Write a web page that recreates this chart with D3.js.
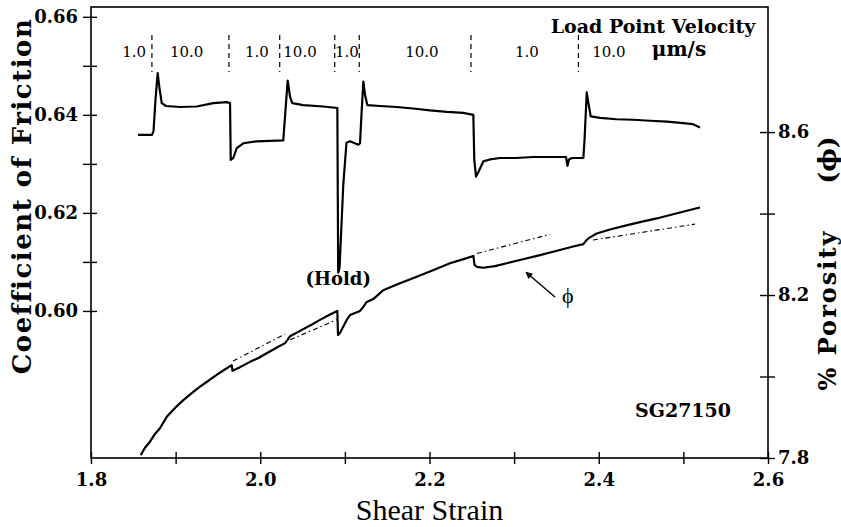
<!DOCTYPE html>
<html>
<head>
<meta charset="utf-8">
<script src="https://cdn.jsdelivr.net/npm/d3@7"></script>
<style>
  body { margin: 0; background: #fff; }
  svg { display: block; }
</style>
</head>
<body>
<svg id="chart" width="841" height="527"></svg>
<script>
// Friction trace: shear strain vs. coefficient of friction
const frictionStrain = [1.8555, 1.8721, 1.8739, 1.8762, 1.8788, 1.8809, 1.8836, 1.8886, 1.9052, 1.9249,
  1.9445, 1.9604, 1.9643, 1.9651, 1.9682, 1.9722, 1.9800, 1.9958, 2.0115, 2.0272, 2.0284, 2.0324,
  2.0352, 2.0379, 2.0509, 2.0745, 2.0911, 2.0921, 2.0937, 2.0981, 2.1019, 2.1061, 2.1159, 2.1179,
  2.1193, 2.1218, 2.1238, 2.1265, 2.1415, 2.1613, 2.1805, 2.2006, 2.2207, 2.2399, 2.2518, 2.2529,
  2.2550, 2.2579, 2.2636, 2.2715, 2.2833, 2.3022, 2.3227, 2.3424, 2.3613, 2.3631, 2.3648, 2.3684,
  2.3818, 2.3832, 2.3858, 2.3877, 2.3905, 2.4015, 2.4212, 2.4405, 2.4606, 2.4807, 2.4999, 2.5114, 2.5196];
const frictionMu = [0.6359, 0.6359, 0.6367, 0.6431, 0.6485, 0.6455, 0.6424, 0.6418, 0.6416, 0.6417,
  0.6424, 0.6426, 0.6424, 0.6308, 0.6312, 0.6332, 0.6342, 0.6346, 0.6347, 0.6348, 0.6376, 0.6470,
  0.6437, 0.6424, 0.6420, 0.6417, 0.6414, 0.6078, 0.6088, 0.6257, 0.6343, 0.6346, 0.6339, 0.6342,
  0.6390, 0.6468, 0.6441, 0.6420, 0.6418, 0.6416, 0.6413, 0.6409, 0.6406, 0.6404, 0.6400, 0.6308,
  0.6274, 0.6284, 0.6305, 0.6309, 0.6312, 0.6312, 0.6314, 0.6314, 0.6314, 0.6296, 0.6309, 0.6312,
  0.6312, 0.6349, 0.6446, 0.6425, 0.6397, 0.6394, 0.6391, 0.6390, 0.6388, 0.6386, 0.6383, 0.6381, 0.6374];

// Porosity trace: shear strain vs. % porosity
const porosityStrain = [1.8587, 1.8638, 1.8697, 1.8756, 1.8815, 1.8895, 1.8993, 1.9091, 1.9194, 1.9288,
  1.9383, 1.9485, 1.9572, 1.9663, 1.9672, 1.9761, 1.9879, 1.9973, 2.0076, 2.0186, 2.0293, 2.0322,
  2.0352, 2.0470, 2.0588, 2.0706, 2.0824, 2.0911, 2.0919, 2.0942, 2.1022, 2.1061, 2.1120, 2.1179,
  2.1218, 2.1258, 2.1336, 2.1454, 2.1557, 2.1651, 2.1849, 2.2041, 2.2242, 2.2384, 2.2518, 2.2532,
  2.2561, 2.2636, 2.2774, 2.2912, 2.3069, 2.3306, 2.3495, 2.3699, 2.3818, 2.3849, 2.3877, 2.3976,
  2.4133, 2.4290, 2.4487, 2.4685, 2.4913, 2.5158, 2.5196];
const porosityPhi = [7.807, 7.825, 7.840, 7.859, 7.873, 7.901, 7.923, 7.942, 7.960, 7.975,
  7.989, 8.004, 8.016, 8.028, 8.014, 8.023, 8.036, 8.045, 8.057, 8.070, 8.082, 8.090,
  8.099, 8.112, 8.125, 8.139, 8.152, 8.161, 8.102, 8.107, 8.139, 8.151, 8.156, 8.161,
  8.171, 8.183, 8.190, 8.212, 8.221, 8.229, 8.245, 8.261, 8.278, 8.287, 8.296, 8.274,
  8.269, 8.267, 8.271, 8.278, 8.286, 8.298, 8.308, 8.319, 8.325, 8.333, 8.339, 8.351,
  8.361, 8.369, 8.379, 8.388, 8.400, 8.413, 8.415];

// Extrapolated porosity trends (dash-dot), one start/end pair per segment
const trendStrain = [[1.9678, 2.0293], [2.0352, 2.0907], [2.2561, 2.3424], [2.3932, 2.5137]];
const trendPhi = [[8.038, 8.104], [8.090, 8.140], [8.302, 8.349], [8.335, 8.374]];

// Load point velocity steps (μm/s)
const stepStrain = [1.872, 1.963, 2.023, 2.088, 2.117, 2.249, 2.376];
const velocityLabels = ["1.0", "10.0", "1.0", "10.0", "1.0", "10.0", "1.0", "10.0"];
const velocityLabelStrain = [1.851, 1.913, 1.996, 2.047, 2.1025, 2.191, 2.315, 2.412];

// Axis ticks
const xTicks = [1.8, 1.9, 2.0, 2.1, 2.2, 2.3, 2.4, 2.5, 2.6];
const xTickLabels = ["1.8", "", "2.0", "", "2.2", "", "2.4", "", "2.6"];
const muTicks = [0.60, 0.61, 0.62, 0.63, 0.64, 0.65, 0.66];
const muTickLabels = ["0.60", "", "0.62", "", "0.64", "", "0.66"];
const phiTicks = [7.8, 8.0, 8.2, 8.4, 8.6];
const phiTickLabels = ["7.8", "", "8.2", "", "8.6"];

// Annotation anchors (strain, value)
const holdLabel = { text: "(Hold)", strain: 2.0921, mu: 0.6053 };
const phiArrow = { fromStrain: 2.3483, fromPhi: 8.195, toStrain: 2.3140, toPhi: 8.256 };
const phiLabel = { text: "\u03d5", strain: 2.3635, phi: 8.180 };

const svg = d3.select("#chart");
const margin = { left: 91, right: 73, top: 7, bottom: 69 };
const W = 841, H = 527;
const x0 = margin.left, x1 = W - margin.right, y0 = margin.top, y1 = H - margin.bottom;

const x = d3.scaleLinear().domain([1.8, 2.6]).range([x0, x1]);
const yMu = d3.scaleLinear().domain([0.57, 0.662]).range([y1, y0]);
const yPhi = d3.scaleLinear().domain([7.8, 8.907]).range([y1, y0]);

const serifBold = "'DejaVu Serif', serif";

// Frame
svg.append("rect").attr("x", x0).attr("y", y0).attr("width", x1 - x0).attr("height", y1 - y0)
  .attr("fill", "none").attr("stroke", "#000").attr("stroke-width", 1.6);

function styleAxis(g) {
  g.select(".domain").remove();
  g.selectAll(".tick line").attr("stroke", "#000").attr("stroke-width", 1.4);
  g.selectAll(".tick text").attr("fill", "#000")
    .style("font-family", serifBold).style("font-weight", "bold").style("font-size", "18px");
}

// Bottom axis
const gx = svg.append("g").attr("transform", `translate(0,${y1})`)
  .call(d3.axisBottom(x).tickValues(xTicks).tickSize(6).tickPadding(9)
    .tickFormat((d, i) => xTickLabels[i]));
styleAxis(gx);
gx.selectAll(".tick line").attr("y1", -6).attr("y2", 6);

// Left axis
const gl = svg.append("g").attr("transform", `translate(${x0},0)`)
  .call(d3.axisLeft(yMu).tickValues(muTicks).tickSize(8).tickPadding(5)
    .tickFormat((d, i) => muTickLabels[i]));
styleAxis(gl);
gl.selectAll(".tick line").attr("x1", 6).attr("x2", -8);

// Right axis
const gr = svg.append("g").attr("transform", `translate(${x1},0)`)
  .call(d3.axisRight(yPhi).tickValues(phiTicks).tickSize(7).tickPadding(3)
    .tickFormat((d, i) => phiTickLabels[i]));
styleAxis(gr);
gr.selectAll(".tick line").attr("x1", -8).attr("x2", 7);

// Axis titles
svg.append("text").attr("transform", `translate(${(x0 + x1) / 2},520)`)
  .attr("text-anchor", "middle").style("font-family", "'Liberation Serif', serif")
  .style("font-size", "30px").text("Shear Strain");

svg.append("text").attr("transform", "translate(31,196) rotate(-90)")
  .attr("text-anchor", "middle").style("font-family", serifBold).style("font-weight", "bold")
  .style("font-size", "26px").style("letter-spacing", "1.5px").text("Coefficient of Friction");

svg.append("text").attr("transform", "translate(836,310) rotate(-90)")
  .attr("text-anchor", "middle").style("font-family", serifBold).style("font-weight", "bold")
  .style("font-size", "24px").style("letter-spacing", "2px").text("% Porosity");
svg.append("text").attr("transform", "translate(836,160) rotate(-90)")
  .attr("text-anchor", "middle").style("font-family", serifBold).style("font-weight", "bold")
  .style("font-size", "25px").text("(\u03d5)");

// Traces
const frictionLine = d3.line().x((d, i) => x(frictionStrain[i])).y((d, i) => yMu(frictionMu[i]));
svg.append("path").datum(frictionStrain).attr("d", frictionLine)
  .attr("fill", "none").attr("stroke", "#000").attr("stroke-width", 2.2).attr("stroke-linejoin", "round");

const porosityLine = d3.line().x((d, i) => x(porosityStrain[i])).y((d, i) => yPhi(porosityPhi[i]));
svg.append("path").datum(porosityStrain).attr("d", porosityLine)
  .attr("fill", "none").attr("stroke", "#000").attr("stroke-width", 2.2).attr("stroke-linejoin", "round");

trendStrain.forEach((seg, k) => {
  svg.append("line")
    .attr("x1", x(seg[0])).attr("y1", yPhi(trendPhi[k][0]))
    .attr("x2", x(seg[1])).attr("y2", yPhi(trendPhi[k][1]))
    .attr("stroke", "#000").attr("stroke-width", 1.1).attr("stroke-dasharray", "5,3,1.5,3");
});

// Velocity step markers and labels
svg.selectAll("line.step").data(stepStrain).enter().append("line").attr("class", "step")
  .attr("x1", d => x(d)).attr("x2", d => x(d)).attr("y1", 35).attr("y2", 72)
  .attr("stroke", "#000").attr("stroke-width", 1.2).attr("stroke-dasharray", "5,4");

svg.selectAll("text.vel").data(velocityLabels).enter().append("text").attr("class", "vel")
  .attr("x", (d, i) => x(velocityLabelStrain[i])).attr("y", 57)
  .attr("text-anchor", "middle").style("font-family", serifBold).style("font-size", "15px").text(d => d);

svg.append("text").attr("x", 653).attr("y", 33).attr("text-anchor", "middle")
  .style("font-family", serifBold).style("font-weight", "bold").style("font-size", "19px")
  .text("Load Point Velocity");
svg.append("text").attr("x", 679).attr("y", 56).attr("text-anchor", "middle")
  .style("font-family", serifBold).style("font-weight", "bold").style("font-size", "20px")
  .text("\u03bcm/s");

// Annotations
svg.append("text").attr("x", x(holdLabel.strain)).attr("y", yMu(holdLabel.mu))
  .attr("text-anchor", "middle").style("font-family", serifBold).style("font-weight", "bold")
  .style("font-size", "18px").text(holdLabel.text);

svg.append("defs").append("marker").attr("id", "head").attr("viewBox", "0 0 10 10")
  .attr("refX", 9).attr("refY", 5).attr("markerWidth", 9).attr("markerHeight", 7)
  .attr("markerUnits", "userSpaceOnUse").attr("orient", "auto")
  .append("path").attr("d", "M0,0 L10,5 L0,10 Z").attr("fill", "#000");

svg.append("line")
  .attr("x1", x(phiArrow.fromStrain)).attr("y1", yPhi(phiArrow.fromPhi))
  .attr("x2", x(phiArrow.toStrain)).attr("y2", yPhi(phiArrow.toPhi))
  .attr("stroke", "#000").attr("stroke-width", 1.4).attr("marker-end", "url(#head)");

svg.append("text").attr("x", x(phiLabel.strain)).attr("y", yPhi(phiLabel.phi))
  .attr("text-anchor", "middle").style("font-family", "'Liberation Serif', serif")
  .style("font-size", "22px").text(phiLabel.text);

svg.append("text").attr("x", 683).attr("y", 417).attr("text-anchor", "middle")
  .style("font-family", serifBold).style("font-weight", "bold").style("font-size", "19px")
  .text("SG27150");
</script>
</body>
</html>
